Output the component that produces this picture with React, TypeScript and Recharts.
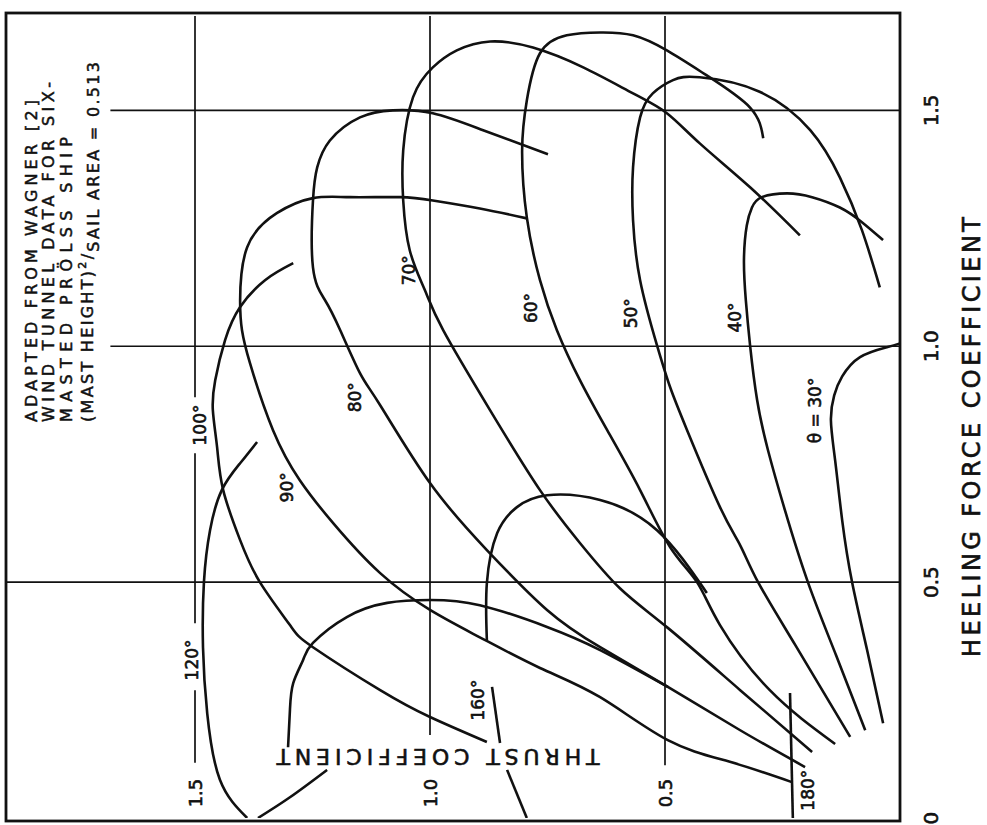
import React from "react";
import { LineChart, Line, XAxis, YAxis, ReferenceLine, ReferenceDot } from "recharts";

// Heeling force coefficient (h) vs thrust coefficient (t), one curve per wind angle
const curve30 = [
  [0.201, 0.036], [0.356, 0.07], [0.5, 0.102], [0.631, 0.123], [0.758, 0.138], [0.843, 0.147],
  [0.896, 0.14], [0.936, 0.123], [0.977, 0.085], [0.998, 0.028], [1.006, 0],
];
const curve40 = [
  [0.186, 0.074], [0.345, 0.136], [0.5, 0.196], [0.653, 0.245], [0.78, 0.281], [0.886, 0.304],
  [1.002, 0.319], [1.097, 0.328], [1.182, 0.332], [1.256, 0.326], [1.294, 0.315], [1.316, 0.294],
  [1.324, 0.24], [1.316, 0.187], [1.294, 0.128], [1.263, 0.081], [1.225, 0.036],
];
const curve50 = [
  [0.172, 0.106], [0.367, 0.223], [0.5, 0.302], [0.578, 0.34], [0.659, 0.383], [0.822, 0.453],
  [0.913, 0.489], [1.002, 0.517], [1.14, 0.553], [1.267, 0.568], [1.379, 0.568], [1.485, 0.553],
  [1.536, 0.526], [1.564, 0.483], [1.57, 0.426], [1.54, 0.3], [1.458, 0.191],
  [1.358, 0.128], [1.246, 0.081], [1.125, 0.043],
];
const curve60 = [
  [0.157, 0.138], [0.271, 0.277], [0.409, 0.383], [0.5, 0.432], [0.574, 0.489], [0.695, 0.553],
  [0.822, 0.623], [0.928, 0.681], [1.034, 0.73], [1.14, 0.766], [1.273, 0.794], [1.415, 0.804],
  [1.521, 0.794], [1.621, 0.766], [1.659, 0.709], [1.665, 0.638], [1.659, 0.568], [1.627, 0.496],
  [1.574, 0.411], [1.506, 0.319], [1.441, 0.291],
];
const curve70 = [
  [0.14, 0.187], [0.271, 0.34], [0.403, 0.494], [0.487, 0.596], [0.583, 0.681], [0.695, 0.766],
  [0.864, 0.872], [1.034, 0.972], [1.119, 1.011], [1.203, 1.043], [1.309, 1.057], [1.415, 1.057],
  [1.528, 1.036], [1.591, 0.994], [1.627, 0.943], [1.646, 0.872], [1.633, 0.781], [1.591, 0.674],
  [1.536, 0.568], [1.494, 0.496], [1.43, 0.426], [1.337, 0.319], [1.235, 0.213],
];
const curve80 = [
  [0.108, 0.202], [0.186, 0.34], [0.278, 0.494], [0.362, 0.638], [0.441, 0.751], [0.568, 0.879],
  [0.71, 1.0], [0.875, 1.106], [0.943, 1.149], [1.034, 1.191], [1.097, 1.223], [1.167, 1.249],
  [1.309, 1.249], [1.379, 1.24], [1.436, 1.213], [1.485, 1.149], [1.5, 1.079], [1.494, 0.994],
  [1.458, 0.887], [1.407, 0.749],
];
const curve90 = [
  [0.076, 0.23], [0.119, 0.362], [0.165, 0.494], [0.256, 0.638], [0.318, 0.766], [0.383, 0.894],
  [0.441, 1.0], [0.519, 1.106], [0.625, 1.206], [0.716, 1.277], [0.822, 1.334], [0.964, 1.383],
  [1.034, 1.4], [1.097, 1.404], [1.21, 1.389], [1.282, 1.326], [1.314, 1.249], [1.316, 1.17],
  [1.316, 1.064], [1.309, 0.994], [1.292, 0.894], [1.271, 0.794],
];
const curve100 = [
  [0.161, 0.879], [0.214, 1.0], [0.271, 1.106], [0.362, 1.249], [0.409, 1.298], [0.5, 1.362],
  [0.589, 1.404], [0.695, 1.44], [0.786, 1.453], [0.864, 1.462], [0.928, 1.457], [1.013, 1.436],
  [1.083, 1.404], [1.14, 1.351], [1.176, 1.291],
];
const curve120 = [
  [0, 1.389], [0.081, 1.447], [0.222, 1.474], [0.362, 1.483], [0.5, 1.481], [0.61, 1.468],
  [0.695, 1.443], [0.752, 1.404], [0.797, 1.368],
];
const curve160Top = [
  [0.377, 0.879], [0.498, 0.879], [0.604, 0.857], [0.659, 0.815], [0.684, 0.751], [0.674, 0.638],
  [0.61, 0.517], [0.477, 0.411],
];
const curve160Mid = [[0.278, 0.868], [0.159, 0.851]];
const curve160Foot = [[0.102, 0.836], [0, 0.794]];
const outerArch = [
  [0.15, 1.302], [0.229, 1.298], [0.286, 1.291], [0.335, 1.27], [0.371, 1.249], [0.426, 1.177],
  [0.456, 1.091], [0.462, 1.0], [0.451, 0.894], [0.405, 0.751], [0.356, 0.638], [0.278, 0.494],
];
const outerFoot = [[0, 1.366], [0.044, 1.298], [0.102, 1.219]];
const stern180 = [[0, 0.228], [0.265, 0.234]];

const SERIES = [
  curve30, curve40, curve50, curve60, curve70, curve80, curve90, curve100, curve120,
  curve160Top, curve160Mid, curve160Foot, outerArch, outerFoot, stern180,
];

// wind angle labels: text, heel, thrust
const ANGLE_LABELS: [string, number, number][] = [
  ["θ = 30°", 0.864, 0.181],
  ["40°", 1.061, 0.351],
  ["50°", 1.07, 0.572],
  ["60°", 1.081, 0.785],
  ["70°", 1.161, 1.045],
  ["80°", 0.892, 1.16],
  ["90°", 0.701, 1.304],
  ["100°", 0.833, 1.489],
  ["120°", 0.335, 1.506],
  ["160°", 0.25, 0.898],
  ["180°", 0.059, 0.196],
];

const HEEL_TICKS = [0, 0.5, 1.0, 1.5];
const HEEL_TICK_LABELS = ["0", "0.5", "1.0", "1.5"];
const THRUST_TICKS = [0.5, 1.0, 1.5];
const THRUST_TICK_LABELS = ["0.5", "1.0", "1.5"];

// gridline pieces, broken where labels sit
const THRUST_GRID: [number, number, number][] = [
  [1.5, 0.117, 0.271],
  [1.5, 0.413, 0.773],
  [1.5, 0.892, 1.7],
  [1.0, 0.176, 1.7],
  [0.5, 0.112, 1.7],
];
const HEEL_GRID: [number, number, number][] = [
  [0.5, 0, 1.9],
  [1.0, 0, 1.68],
  [1.5, 0, 1.68],
];

const FONT = "'DejaVu Sans', Verdana, sans-serif";
const INK = "#111";
const W = 825;
const H = 987;

// lettering is drawn a bit heavier than the regular face
const ink = { fill: INK, stroke: INK, strokeWidth: 0.6 };

const toPoints = (arr: number[][]) => arr.map(([h, t]) => ({ h, t }));

const HeelTick = (props: any) => {
  const i = HEEL_TICKS.indexOf(props.payload.value);
  return (
    <text x={props.x} y={938} textAnchor="middle" fontFamily={FONT} fontSize={20} {...ink}>
      {HEEL_TICK_LABELS[i]}
    </text>
  );
};

const textAt = (label: string, size: number) => (p: any) => (
  <text
    x={p.cx}
    y={p.cy}
    textAnchor="middle"
    dominantBaseline="central"
    fontFamily={FONT}
    fontSize={size}
    {...ink}
  >
    {label}
  </text>
);

export default function App() {
  return (
    <div style={{ position: "absolute", left: 0, top: 0, width: 987, height: 825, overflow: "hidden", background: "#fff" }}>
      <div
        style={{
          position: "absolute",
          left: 0,
          top: 0,
          width: W,
          height: H,
          transformOrigin: "0 0",
          transform: "translate(0px, 825px) rotate(-90deg)",
        }}
      >
        <LineChart width={W} height={H} margin={{ top: 7, right: 16, bottom: 0, left: 7 }}>
          <XAxis
            type="number"
            dataKey="h"
            domain={[0, 1.7]}
            ticks={HEEL_TICKS}
            allowDataOverflow
            axisLine={false}
            tickLine={false}
            height={87}
            tick={<HeelTick />}
          />
          <YAxis type="number" dataKey="t" domain={[0, 1.9]} allowDataOverflow hide />
          {HEEL_GRID.map(([h, t1, t2], i) => (
            <ReferenceLine
              key={`hg${i}`}
              segment={[{ x: h, y: t1 }, { x: h, y: t2 }]}
              stroke={INK}
              strokeWidth={1.7}
            />
          ))}
          {THRUST_GRID.map(([t, h1, h2], i) => (
            <ReferenceLine
              key={`tg${i}`}
              segment={[{ x: h1, y: t }, { x: h2, y: t }]}
              stroke={INK}
              strokeWidth={1.7}
            />
          ))}
          {SERIES.map((s, i) => (
            <Line
              key={`c${i}`}
              data={toPoints(s)}
              dataKey="t"
              type="natural"
              stroke={INK}
              strokeWidth={2.6}
              dot={false}
              activeDot={false}
              isAnimationActive={false}
            />
          ))}
          {ANGLE_LABELS.map(([label, h, t]) => (
            <ReferenceDot key={label} x={h} y={t} r={0} shape={textAt(label, 17)} />
          ))}
          {THRUST_TICKS.map((t, i) => (
            <ReferenceDot key={`tt${i}`} x={0.053} y={t} r={0} shape={textAt(THRUST_TICK_LABELS[i], 18)} />
          ))}
        </LineChart>
        <svg width={W} height={H} style={{ position: "absolute", left: 0, top: 0, pointerEvents: "none" }}>
          <rect x={4} y={6} width={808} height={894} fill="none" stroke={INK} strokeWidth={2.8} />
          <g fontFamily={FONT} fontSize={16} {...ink} strokeWidth={0.5}>
            <text x={403} y={37} textLength={322} lengthAdjust="spacing">ADAPTED  FROM  WAGNER [2]</text>
            <text x={403} y={54} textLength={340} lengthAdjust="spacing">WIND TUNNEL DATA FOR SIX-</text>
            <text x={403} y={72} textLength={285} lengthAdjust="spacing">MASTED  PRÖLSS  SHIP</text>
            <text x={403} y={93} textLength={360} lengthAdjust="spacing">
              (MAST HEIGHT)
              <tspan fontSize={11} dy={-7}>2</tspan>
              <tspan dy={7}>/</tspan>
              <tspan dy={6}>SAIL AREA = 0.513</tspan>
            </text>
          </g>
          <text
            x={388}
            y={980}
            textAnchor="middle"
            fontFamily={FONT}
            fontSize={24}
            {...ink}
            textLength={440}
            lengthAdjust="spacing"
          >
            HEELING  FORCE  COEFFICIENT
          </text>
          <text
            x={69}
            y={438}
            transform="rotate(-90 69 438)"
            textAnchor="middle"
            dominantBaseline="central"
            fontFamily={FONT}
            fontSize={22}
            {...ink}
            textLength={323}
            lengthAdjust="spacing"
          >
            THRUST COEFFICIENT
          </text>
        </svg>
      </div>
    </div>
  );
}
